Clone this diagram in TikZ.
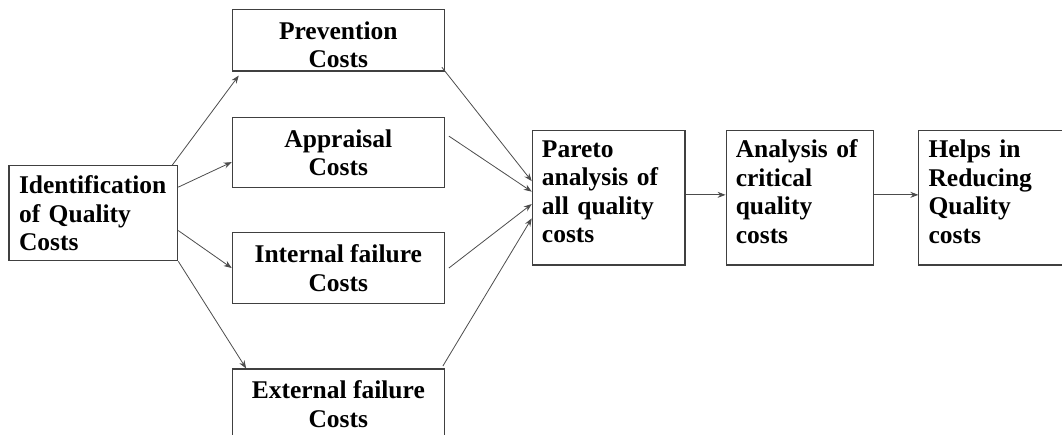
\documentclass[tikz,border=0pt]{standalone}
\usepackage{fontspec}
\setmainfont{Liberation Serif}
\usetikzlibrary{arrows.meta,positioning}

\begin{document}
\begin{tikzpicture}[
        x=1pt, y=1pt,
        node distance=40pt and 40pt,
        every node/.style={draw=black!75, line width=1.1pt, inner sep=0pt,
            font=\fontsize{25.5}{28.5}\selectfont\bfseries},
        costbox/.style={minimum width=212pt, minimum height=70pt, align=center},
        stepbox/.style={minimum width=147.3pt, minimum height=134.3pt, text width=128pt,
            inner xsep=9.65pt, align=left, text depth=98pt},
        link/.style={draw=black!70, line width=.8pt, -{Stealth[length=8pt,width=6pt]}}
    ]
    \useasboundingbox (0,0) rectangle (1062,434);

    % Nodes
    \node (ident) [minimum width=168.7pt, minimum height=95pt, text width=148.7pt,
        inner xsep=10pt, align=left] at (93.35,220.8) {Identification\\ of Quality\\ Costs};

    \node (prev) [costbox, minimum height=61.7pt, text height=55pt] at (338.3,393.85) {Prevention\\ Costs};
    \node (appr) [costbox, below=45.7pt of prev] {Appraisal\\ Costs};
    \node (intl) [costbox, minimum height=71.7pt, below=43.3pt of appr] {Internal failure\\ Costs};
    \node (extl) [costbox, below=64pt of intl] {External failure\\ Costs};

    \node (pareto) [stepbox, minimum width=152.7pt, text width=133.4pt] at (608.65,236.15)
        {Pareto\\ analysis of\\ all quality\\ costs};
    \node (crit) [stepbox, right=of pareto] {Analysis of\\ critical\\ quality\\ costs};
    \node (helps) [stepbox, right=44.4pt of crit] {Helps in\\ Reducing\\ Quality\\ costs};

    % Edges
    \draw[link] ([xshift=-6pt]ident.north east) -- ([shift={(7pt,-4pt)}]prev.south west);
    \draw[link] ([yshift=-22pt]ident.north east) -- ([yshift=-9.3pt]appr.west);
    \draw[link] ([yshift=30.7pt]ident.south east) -- (intl.west);
    \draw[link] (ident.south east) -- ([xshift=14.4pt]extl.north west);

    \draw[link] ([shift={(-3pt,4.3pt)}]prev.south east) -- ([yshift=-51pt]pareto.north west);
    \draw[link] ([shift={(4pt,16.7pt)}]appr.east) -- ([yshift=6.2pt]pareto.west);
    \draw[link] ([xshift=4pt]intl.east) -- ([yshift=-6.2pt]pareto.west);
    \draw[link] ([shift={(-2pt,2.4pt)}]extl.north east) -- ([yshift=-20.5pt]pareto.west);

    \draw[link] ([yshift=3pt]pareto.east) -- ([yshift=3pt]crit.west);
    \draw[link] ([yshift=3pt]crit.east) -- ([yshift=3pt]helps.west);
\end{tikzpicture}
\end{document}
